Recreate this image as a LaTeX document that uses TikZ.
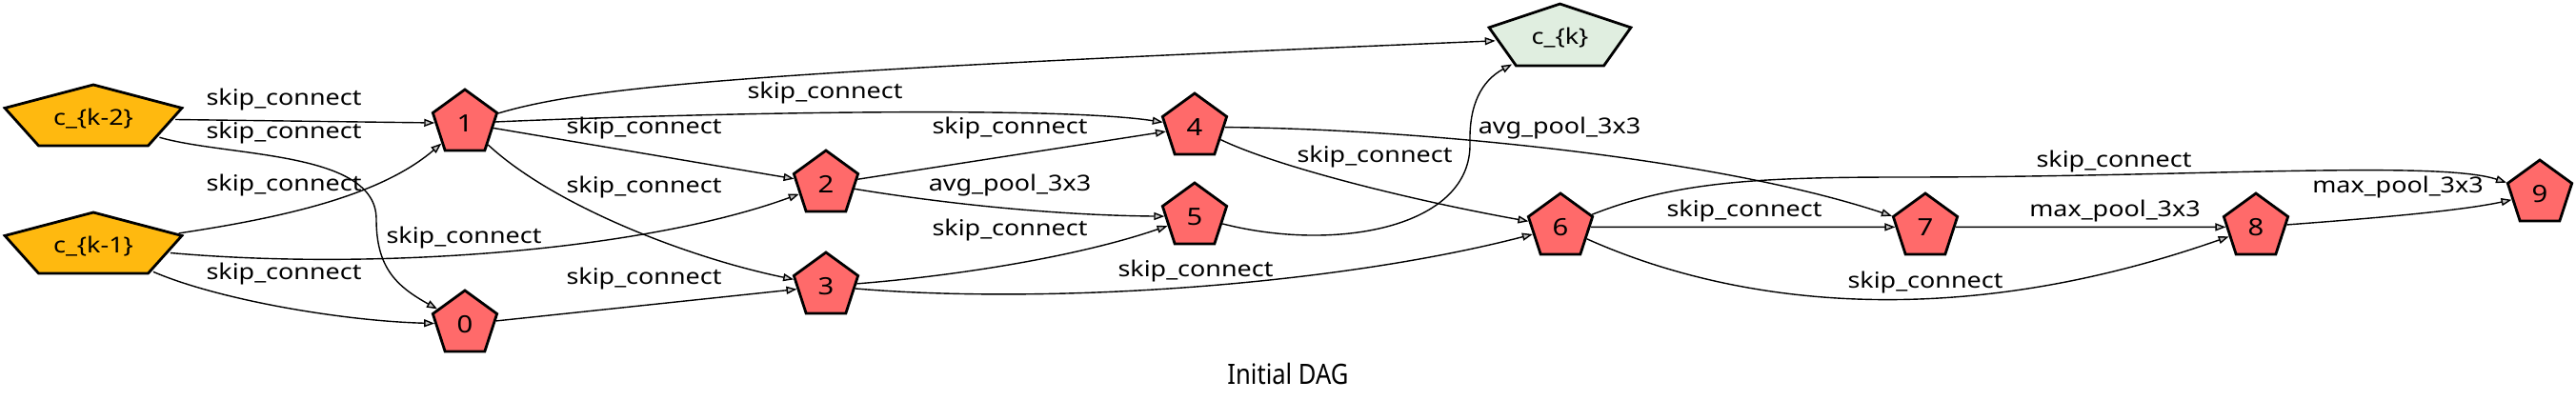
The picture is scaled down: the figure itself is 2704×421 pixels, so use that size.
\documentclass[tikz,border=0pt]{standalone}
\usepackage{fontspec}
\setmainfont{Noto Sans}[FakeStretch=1.17]
\newfontfamily\titlefont{Noto Sans}[FakeStretch=0.87]
\usetikzlibrary{shapes.geometric,arrows.meta}
\definecolor{inputcol}{HTML}{FFB90F}
\definecolor{opcol}{HTML}{FF6A6A}
\definecolor{outcol}{HTML}{E0EEE0}

\begin{document}
\begin{tikzpicture}[
        x=0.5pt, y=-0.5pt,
        opnode/.style = {draw, regular polygon, regular polygon sides=5, minimum size=35.4pt, inner sep=0pt, line width=1.4pt, fill=opcol, font=\fontsize{12.5}{14}\selectfont},
        cellnode/.style = {draw, regular polygon, regular polygon sides=5, minimum size=35.4pt, inner sep=0pt, line width=1.4pt},
        ntext/.style = {inner sep=0pt, font=\fontsize{11.5}{13}\selectfont},
        elabel/.style = {inner sep=0pt, font=\fontsize{11.5}{13}\selectfont},
        conn/.style = {line width=0.7pt, -{Triangle[length=5.5pt, width=4pt, fill=gray!45]}},
        ]
        \useasboundingbox[fill=white] (0,0) rectangle (2704,421);

        % cell inputs and output
        \begin{scope}[shift={(98,124.4)}]
            \node[cellnode, fill=inputcol, xscale=2.76] (ck2) {};
        \end{scope}
        \begin{scope}[shift={(98,258.4)}]
            \node[cellnode, fill=inputcol, xscale=2.76] (ck1) {};
        \end{scope}
        \begin{scope}[shift={(1637.5,40)}]
            \node[cellnode, fill=outcol, minimum size=35.9pt, xscale=2.18] (ck) {};
        \end{scope}
        \node[ntext] (ck2txt) at (98,124.4) {c\_\{k-2\}};
        \node[ntext] (ck1txt) at (98,258.4) {c\_\{k-1\}};
        \node[ntext] (cktxt) at (1637.5,40) {c\_\{k\}};

        % intermediate nodes
        \node[opnode] (n0) at (488,340.4) {0};
        \node[opnode] (n1) at (488,129.4) {1};
        \node[opnode] (n2) at (867,193.4) {2};
        \node[opnode] (n3) at (867,300.4) {3};
        \node[opnode] (n4) at (1254,133.4) {4};
        \node[opnode] (n5) at (1254,227.4) {5};
        \node[opnode] (n6) at (1638,238.4) {6};
        \node[opnode] (n7) at (2021,238.4) {7};
        \node[opnode] (n8) at (2368,238.4) {8};
        \node[opnode] (n9) at (2666,203.4) {9};

        % edges
        \draw[conn] (ck2) -- (n1);
        \draw[conn] (ck2) .. controls (240,165) and (395,158) .. (395,230)
                          .. controls (395,280) and (415,300) .. (n0);
        \draw[conn] (ck1) .. controls (300,228) and (400,205) .. (n1);
        \draw[conn] (ck1) .. controls (400,285) and (680,262) .. (n2);
        \draw[conn] (ck1) .. controls (230,315) and (360,337) .. (n0);
        \draw[conn] (n1) .. controls (620,90) and (800,75) .. (ck);
        \draw[conn] (n1) -- (n2);
        \draw[conn] (n1) .. controls (580,215) and (720,270) .. (n3);
        \draw[conn] (n1) .. controls (700,120) and (1100,110) .. (n4);
        \draw[conn] (n0) -- (n3);
        \draw[conn] (n2) -- (n4);
        \draw[conn] (n2) .. controls (980,212) and (1100,226) .. (n5);
        \draw[conn] (n3) .. controls (1000,290) and (1130,270) .. (n5);
        \draw[conn] (n3) .. controls (1100,320) and (1400,300) .. (n6);
        \draw[conn] (n4) .. controls (1340,175) and (1480,210) .. (n6);
        \draw[conn] (n4) .. controls (1480,135) and (1800,165) .. (n7);
        \draw[conn] (n5) .. controls (1400,265) and (1545,240) .. (1543,150)
                         .. controls (1542,110) and (1555,85) .. (ck);
        \draw[conn] (n6) -- (n7);
        \draw[conn] (n6) .. controls (1820,320) and (2050,350) .. (n8);
        \draw[conn] (n6) .. controls (1760,190) and (1850,186) .. (2000,186)
                         .. controls (2300,186) and (2560,168) .. (n9);
        \draw[conn] (n7) -- (n8);
        \draw[conn] (n8) .. controls (2480,230) and (2580,222) .. (n9);

        % edge labels
        \node[elabel] (l1) at (298,105) {skip\_connect};
        \node[elabel] (l2) at (298,140) {skip\_connect};
        \node[elabel] (l3) at (298,195) {skip\_connect};
        \node[elabel] (l4) at (487,250) {skip\_connect};
        \node[elabel] (l5) at (298,288) {skip\_connect};
        \node[elabel] (l6) at (676,135) {skip\_connect};
        \node[elabel] (l7) at (676,197) {skip\_connect};
        \node[elabel] (l8) at (866,98) {skip\_connect};
        \node[elabel] (l9) at (676,293) {skip\_connect};
        \node[elabel] (l10) at (1060,135) {skip\_connect};
        \node[elabel] (l11) at (1060,195) {avg\_pool\_3x3};
        \node[elabel] (l12) at (1060,242) {skip\_connect};
        \node[elabel] (l13) at (1255,285) {skip\_connect};
        \node[elabel] (l14) at (1443,165) {skip\_connect};
        \node[elabel] (l15) at (1637,135) {avg\_pool\_3x3};
        \node[elabel] (l16) at (1831,222) {skip\_connect};
        \node[elabel] (l17) at (2021,297) {skip\_connect};
        \node[elabel] (l18) at (2219,170) {skip\_connect};
        \node[elabel] (l19) at (2220,222) {max\_pool\_3x3};
        \node[elabel] (l20) at (2517,197) {max\_pool\_3x3};

        \node[font=\titlefont\fontsize{14.7}{16}\selectfont] (title) at (1352,392) {Initial DAG};
    \end{tikzpicture}
\end{document}
